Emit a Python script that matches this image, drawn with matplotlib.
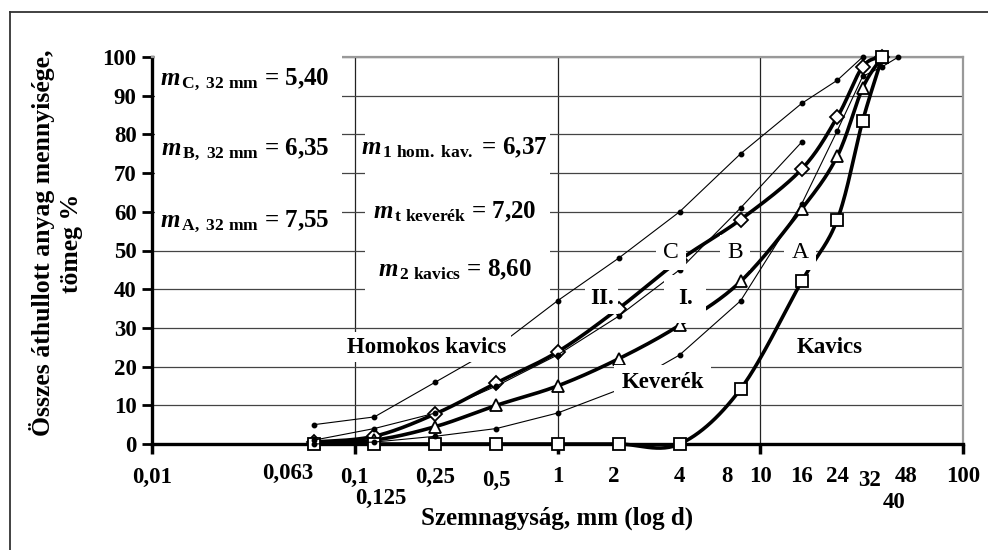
import numpy as np
import matplotlib
matplotlib.use("Agg")
import matplotlib.pyplot as plt
from matplotlib.patches import Rectangle
from matplotlib.lines import Line2D
from matplotlib.ticker import NullLocator

plt.rcParams['font.family'] = ['Liberation Serif', 'DejaVu Serif']
plt.rcParams['font.weight'] = 'bold'
plt.rcParams['mathtext.fontset'] = 'custom'
plt.rcParams['mathtext.it'] = 'Liberation Serif:italic:bold'
plt.rcParams['mathtext.bf'] = 'Liberation Serif:bold'
plt.rcParams['mathtext.rm'] = 'Liberation Serif:bold'

# ---------------- data ----------------
# thick (measured) grading curves
x_thick = [0.063, 0.125, 0.25, 0.5, 1, 2, 4, 8, 16, 24, 32, 40]
homokos_kavics = [0.5, 2, 7.8, 15.8, 23.8, 35, 47.5, 58, 71, 84.5, 97.5, 100]   # II. (diamond)
keverek = [0.3, 1, 4.5, 10, 15, 22, 30.7, 42, 60.7, 74.4, 92, 100]            # I. (triangle)
kavics = [0, 0, 0, 0, 0, 0, 0, 14.2, 42, 58, 83.5, 100]                        # (square)

# thin limit curves A, B, C
x_C = [0.063, 0.125, 0.25, 0.5, 1, 2, 4, 8, 16, 24, 32]
y_C = [5, 7, 16, 25, 37, 48, 60, 75, 88, 94, 100]
x_B = [0.063, 0.125, 0.25, 0.5, 1, 2, 4, 8, 16]
y_B = [1, 4, 8, 15, 23, 33, 45, 61, 78]
x_A = [0.063, 0.125, 0.25, 0.5, 1, 2, 4, 8, 16, 24, 32, 40, 48]
y_A = [0, 0.5, 2, 4, 8, 14, 23, 37, 62, 81, 95, 97.5, 100]

xtick_vals = [0.01, 0.063, 0.1, 0.125, 0.25, 0.5, 1, 2, 4, 8, 10, 16, 24, 32, 40, 48, 100]
xtick_labels = ["0,01", "0,063", "0,1", "0,125", "0,25", "0,5", "1", "2", "4", "8",
                "10", "16", "24", "32", "40", "48", "100"]
ytick_vals = list(range(0, 101, 10))

m_left = [r"$m_{\mathrm{\,C,\ 32\ mm}}$ = 5,40",
          r"$m_{\mathrm{\,B,\ 32\ mm}}$ = 6,35",
          r"$m_{\mathrm{\,A,\ 32\ mm}}$ = 7,55"]
m_mid = [r"$m_{\mathrm{\,1\ hom.\ kav.}}$ = 6,37",
         r"$m_{\mathrm{\,t\ keverék}}$ = 7,20",
         r"$m_{\mathrm{\,2\ kavics}}$ = 8,60"]

# label layout offsets (pixels) for x tick texts: (dx, dy)
xlabel_offsets = {"0,063": (-26, 4), "0,125": (6, -21), "0,5": (0, -3), "2": (-5, 0),
                  "8": (-14, 0), "32": (7, -3), "40": (12, -25), "48": (8, 0)}


def smooth(xs, ys, n=30):
    u = np.log10(np.asarray(xs, float))
    v = np.asarray(ys, float)
    P = np.column_stack([u, v])
    P = np.vstack([P[0], P, P[-1]])
    segs = []
    t = np.linspace(0, 1, n)[:, None]
    for i in range(1, len(P) - 2):
        p0, p1, p2, p3 = P[i - 1], P[i], P[i + 1], P[i + 2]
        c1 = p1 + (p2 - p0) / 6
        c2 = p2 - (p3 - p1) / 6
        seg = (1 - t) ** 3 * p1 + 3 * (1 - t) ** 2 * t * c1 + 3 * (1 - t) * t ** 2 * c2 + t ** 3 * p2
        segs.append(seg if i == 1 else seg[1:])
    S = np.vstack(segs)
    return 10 ** S[:, 0], S[:, 1]


W, H = 988, 550
fig = plt.figure(figsize=(W / 100, H / 100), dpi=100)
L, R, T, B = 152, 963, 57, 444
ax = fig.add_axes([L / W, 1 - B / H, (R - L) / W, (B - T) / H])
ax.set_xscale('log')
ax.set_xlim(0.01, 100)
ax.set_ylim(0, 100)

# outer frame
fig.add_artist(Line2D([10 / W, 1], [1 - 12 / H, 1 - 12 / H], color='#333333', lw=1.3))
fig.add_artist(Line2D([10 / W, 10 / W], [0, 1 - 12 / H], color='#333333', lw=1.3))

# grid
ax.set_axisbelow(True)
ax.set_yticks(ytick_vals)
ax.set_xticks([0.01, 0.1, 1, 10, 100])
ax.xaxis.set_minor_locator(NullLocator())
ax.set_xticklabels([])
ax.grid(axis='y', color='#444444', lw=0.9)
ax.grid(axis='x', color='#222222', lw=0.9)
ax.tick_params(axis='y', direction='out', length=7, width=2, pad=4, labelsize=16.5)
ax.tick_params(axis='x', direction='out', length=7, width=2.5)
for lab in ax.get_yticklabels():
    lab.set_fontweight('bold')

for s in ['left', 'bottom']:
    ax.spines[s].set_linewidth(2.4)
    ax.spines[s].set_color('black')
for s in ['top', 'right']:
    ax.spines[s].set_linewidth(1.6)
    ax.spines[s].set_color('#999999')

# white boxes behind the m-value texts
ax.add_patch(Rectangle((0.004, (B - 240) / (B - T)), (342 - L) / (R - L) - 0.004, 1.02 - (B - 240) / (B - T),
                       transform=ax.transAxes, fc='white', ec='none', zorder=2.6, clip_on=False))
ax.add_patch(Rectangle(((365 - L) / (R - L), (B - 305) / (B - T)), (550 - 365) / (R - L), (305 - 110) / (B - T),
                       transform=ax.transAxes, fc='white', ec='none', zorder=2.6))

# thin limit curves
for xs, ys in [(x_C, y_C), (x_B, y_B), (x_A, y_A)]:
    ax.plot(xs, ys, color='black', lw=0.8, marker='o', ms=3.2, zorder=4, clip_on=False)

# thick curves
for ys, mk, ms in [(homokos_kavics, 'D', 7), (keverek, '^', 9), (kavics, 's', 8.5)]:
    sx, sy = smooth(x_thick, ys)
    ax.plot(sx, sy, color='black', lw=2.6, zorder=3, clip_on=False, solid_capstyle='butt')
    ax.plot(x_thick, ys, ls='none', marker=mk, ms=ms, mfc='white', mec='black', mew=1.3,
            zorder=3.5, clip_on=False)

# region labels with white background
box = dict(boxstyle='square,pad=0.2', fc='white', ec='none')
ax.text(0.226, 25, "Homokos kavics", fontsize=16.5, ha='center', va='center', bbox=box, zorder=5)
ax.text(3.3, 15.8, "Keverék", fontsize=16.5, ha='center', va='center',
        bbox=dict(boxstyle='square,pad=0.32', fc='white', ec='none'), zorder=5)
ax.text(21.9, 25, "Kavics", fontsize=16.5, ha='center', va='center', bbox=box, zorder=5)
ax.text(1.65, 37.5, "II.", fontsize=16.5, ha='center', va='center',
        bbox=dict(boxstyle='square,pad=0.2', fc='white', ec='none'), zorder=5)
ax.text(4.27, 37.5, "I.", fontsize=16.5, ha='center', va='center',
        bbox=dict(boxstyle='square,pad=0.6', fc='white', ec='none'), zorder=5)
for lx, lt in [(3.64, "C"), (7.53, "B"), (15.7, "A")]:
    ax.text(lx, 49.5, lt, fontsize=17, fontweight='normal', ha='center', va='center',
            bbox=dict(boxstyle='square,pad=0.3', fc='white', ec='none'), zorder=5)

# m-values
for txt, yv in zip(m_left, [94, 76, 57.4]):
    ax.text(0.0287, yv, txt, fontsize=18, ha='center', va='center', zorder=6)
for txt, yv in zip(m_mid, [76.5, 60, 45]):
    ax.text(0.311, yv, txt, fontsize=18, ha='center', va='center', zorder=6)

# x tick labels as text
for v, lab in zip(xtick_vals, xtick_labels):
    dx, dy = xlabel_offsets.get(lab, (0, 0))
    ax.annotate(lab, xy=(v, 0), xycoords=('data', 'axes fraction'),
                xytext=(dx * 0.72, (-33 + dy) * 0.72), textcoords='offset points',
                ha='center', va='center', fontsize=16.5, fontweight='bold', annotation_clip=False)

fig.text(557 / W, 1 - 518 / H, "Szemnagyság, mm (log d)", fontsize=18, fontweight='bold',
         ha='center', va='center')
fig.text(56 / W, 1 - 243 / H, "Összes áthullott anyag mennyisége,\ntömeg %", fontsize=18.5,
         fontweight='bold', ha='center', va='center', rotation=90, multialignment='center',
         linespacing=1.3)

fig.savefig("out.png", dpi=100)
